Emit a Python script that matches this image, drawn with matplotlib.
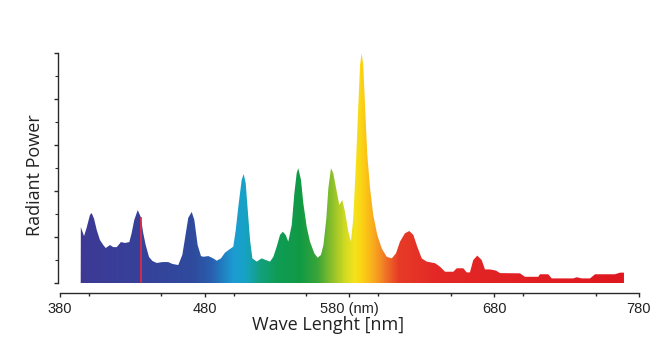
"""
Fluorescent lamp emission spectrum, rainbow filled
"""

import numpy as np
import matplotlib
matplotlib.use("Agg")
import matplotlib.pyplot as plt
from matplotlib.colors import LinearSegmentedColormap
from matplotlib.ticker import MultipleLocator, FixedLocator

# ==================== Data ====================
WAVELENGTH = [394.3, 394.4, 396.6, 398.4, 400.7, 401.9, 403.5, 405.4, 407.6, 409.9,
              411.6, 414.5, 416.8, 419.2, 422.1, 424.9, 427.9, 429.5, 431.3, 433.7,
              435.8, 437.5, 439.2, 441.5, 443.8, 446.8, 450.7, 454.8, 457.6, 461.7,
              464.5, 466.4, 468.6, 471.0, 472.8, 475.1, 477.4, 479.0, 482.5, 485.9,
              488.3, 491.2, 494.0, 497.0, 499.7, 501.4, 503.2, 505.5, 506.9, 508.3,
              509.7, 511.3, 512.9, 515.9, 519.3, 522.1, 525.1, 527.4, 529.7, 532.0,
              533.9, 535.9, 537.7, 540.1, 541.9, 543.5, 544.6, 546.5, 548.1, 550.4,
              552.7, 555.7, 558.0, 560.3, 562.0, 564.0, 565.4, 567.2, 568.8, 571.2,
              573.0, 575.0, 576.9, 579.2, 581.0, 582.6, 584.5, 586.1, 587.3, 588.4,
              589.5, 590.7, 592.3, 594.2, 596.4, 599.2, 602.2, 605.7, 609.2, 612.1,
              614.9, 618.3, 621.3, 624.1, 626.8, 629.9, 633.3, 639.1, 642.5, 646.0,
              651.7, 654.1, 658.6, 661.0, 663.2, 665.5, 668.3, 671.3, 673.6, 677.1,
              681.2, 684.0, 697.8, 701.2, 710.4, 711.6, 717.3, 719.7, 734.6, 737.0,
              740.4, 746.2, 749.6, 763.4, 766.9, 769.6]
POWER = [0.0, 24.3, 20.4, 24.0, 29.6, 30.4, 28.0, 23.0, 18.7, 16.5,
         15.2, 16.5, 15.6, 15.6, 17.8, 17.4, 17.8, 21.7, 27.4, 31.7,
         28.7, 21.7, 16.5, 11.3, 9.6, 8.7, 9.1, 9.1, 8.3, 7.8,
         12.2, 19.6, 28.3, 30.9, 27.4, 16.5, 11.7, 11.4, 11.7, 10.7,
         9.7, 10.7, 13.2, 14.6, 15.8, 23.0, 33.2, 44.8, 47.4, 43.3,
         31.7, 18.7, 10.7, 9.3, 10.7, 10.0, 9.3, 11.4, 15.8, 20.9,
         22.3, 20.9, 18.0, 25.2, 39.0, 47.7, 49.9, 44.8, 34.7, 24.5,
         18.0, 12.9, 11.0, 12.2, 16.5, 28.1, 41.2, 49.9, 47.7, 39.7,
         33.9, 36.1, 31.0, 22.3, 18.0, 28.1, 52.7, 77.4, 94.8, 99.9,
         94.8, 77.4, 55.7, 41.2, 29.6, 20.9, 15.1, 11.4, 10.7, 12.9,
         18.0, 21.6, 22.6, 20.9, 15.8, 10.7, 9.3, 8.6, 7.1, 4.9,
         4.9, 6.4, 6.4, 4.6, 4.6, 10.0, 11.9, 10.0, 5.9, 5.9,
         5.4, 4.3, 4.2, 2.7, 2.7, 3.8, 3.8, 2.0, 2.0, 2.5,
         2.0, 2.0, 3.8, 3.8, 4.5, 4.5]
HG_LINE_NM = 436.0
HG_LINE_POWER = 28.7

X_TICKS = [380, 480, 580, 680, 780]
X_TICK_LABELS = ['380', '480', '580 (nm)', '680', '780']

# colour of the fill along the wavelength axis
SPECTRUM_STOPS = [
    (380, '#3f3794'), (440, '#36429a'), (472, '#2f4b9e'), (484, '#2a5eae'),
    (494, '#1f86c6'), (500, '#1d9dd3'), (508, '#17a3c4'), (518, '#13a07e'),
    (530, '#0f9c55'), (546, '#119a45'), (558, '#3aa538'), (567, '#86bd2c'),
    (577, '#d2da22'), (584, '#f5e41a'), (590, '#fccc14'), (598, '#f7a420'),
    (606, '#ef6e26'), (614, '#e63c26'), (640, '#e32826'), (780, '#df161f'),
]

# ==================== Plotting ====================
W, H = 654, 348
fig = plt.figure(figsize=(W / 100, H / 100), dpi=100)
ax = fig.add_axes([60 / W, (H - 283) / H, 579 / W, 230 / H])

lo, hi = 380, 780
cmap = LinearSegmentedColormap.from_list(
    'spec', [((w - lo) / (hi - lo), c) for w, c in SPECTRUM_STOPS], N=512)

area = ax.fill_between(WAVELENGTH, POWER, 0, facecolor='none', edgecolor='none')
grad = np.linspace(lo, hi, 800).reshape(1, -1)
im = ax.imshow(grad, extent=[lo, hi, 0, 100], aspect='auto', cmap=cmap,
               vmin=lo, vmax=hi, origin='lower', interpolation='bilinear', zorder=1)
im.set_clip_path(area.get_paths()[0], transform=ax.transData)

ax.vlines(HG_LINE_NM, 0, HG_LINE_POWER, color='#e8283a', linewidth=1.2, zorder=2)

ax.set_xlim(lo, hi)
ax.set_ylim(0, 100)

axis_col = '#2a2a2a'
for side in ['top', 'right']:
    ax.spines[side].set_visible(False)
ax.spines['bottom'].set_position(('outward', 7))
ax.spines['left'].set_position(('outward', 1.5))
ax.spines['bottom'].set_color(axis_col)
ax.spines['left'].set_color(axis_col)
ax.spines['bottom'].set_linewidth(1.0)
ax.spines['left'].set_linewidth(1.0)

ax.xaxis.set_major_locator(FixedLocator(X_TICKS))
ax.set_xticklabels(X_TICK_LABELS)
ax.xaxis.set_minor_locator(MultipleLocator(50))
ax.yaxis.set_major_locator(MultipleLocator(20))
ax.yaxis.set_minor_locator(MultipleLocator(10))
ax.set_yticklabels([])

ax.tick_params(axis='x', which='major', direction='out', length=3, width=1,
               color=axis_col, pad=3.5, labelsize=10.5, labelcolor='#222222')
ax.tick_params(axis='x', which='minor', direction='out', length=2.5, width=1,
               color=axis_col)
ax.tick_params(axis='y', which='major', direction='out', length=3, width=1,
               color=axis_col)
ax.tick_params(axis='y', which='minor', direction='out', length=2, width=0.8,
               color=axis_col)
for lab in ax.get_xticklabels():
    lab.set_fontfamily(['Liberation Sans', 'DejaVu Sans'])

ax.set_xlabel('Wave Lenght [nm]', fontsize=13, family=['Open Sans', 'DejaVu Sans'],
              color='#222222', va='center')
ax.xaxis.set_label_coords((328 - 60) / 579, (283 - 325) / 230)
ax.set_ylabel('Radiant Power', fontsize=13, family=['Open Sans', 'DejaVu Sans'],
              color='#222222', va='center')
ax.yaxis.set_label_coords((35 - 60) / 579, (283 - 175) / 230)

plt.savefig('out.png', dpi=100, facecolor='white')
plt.close()
